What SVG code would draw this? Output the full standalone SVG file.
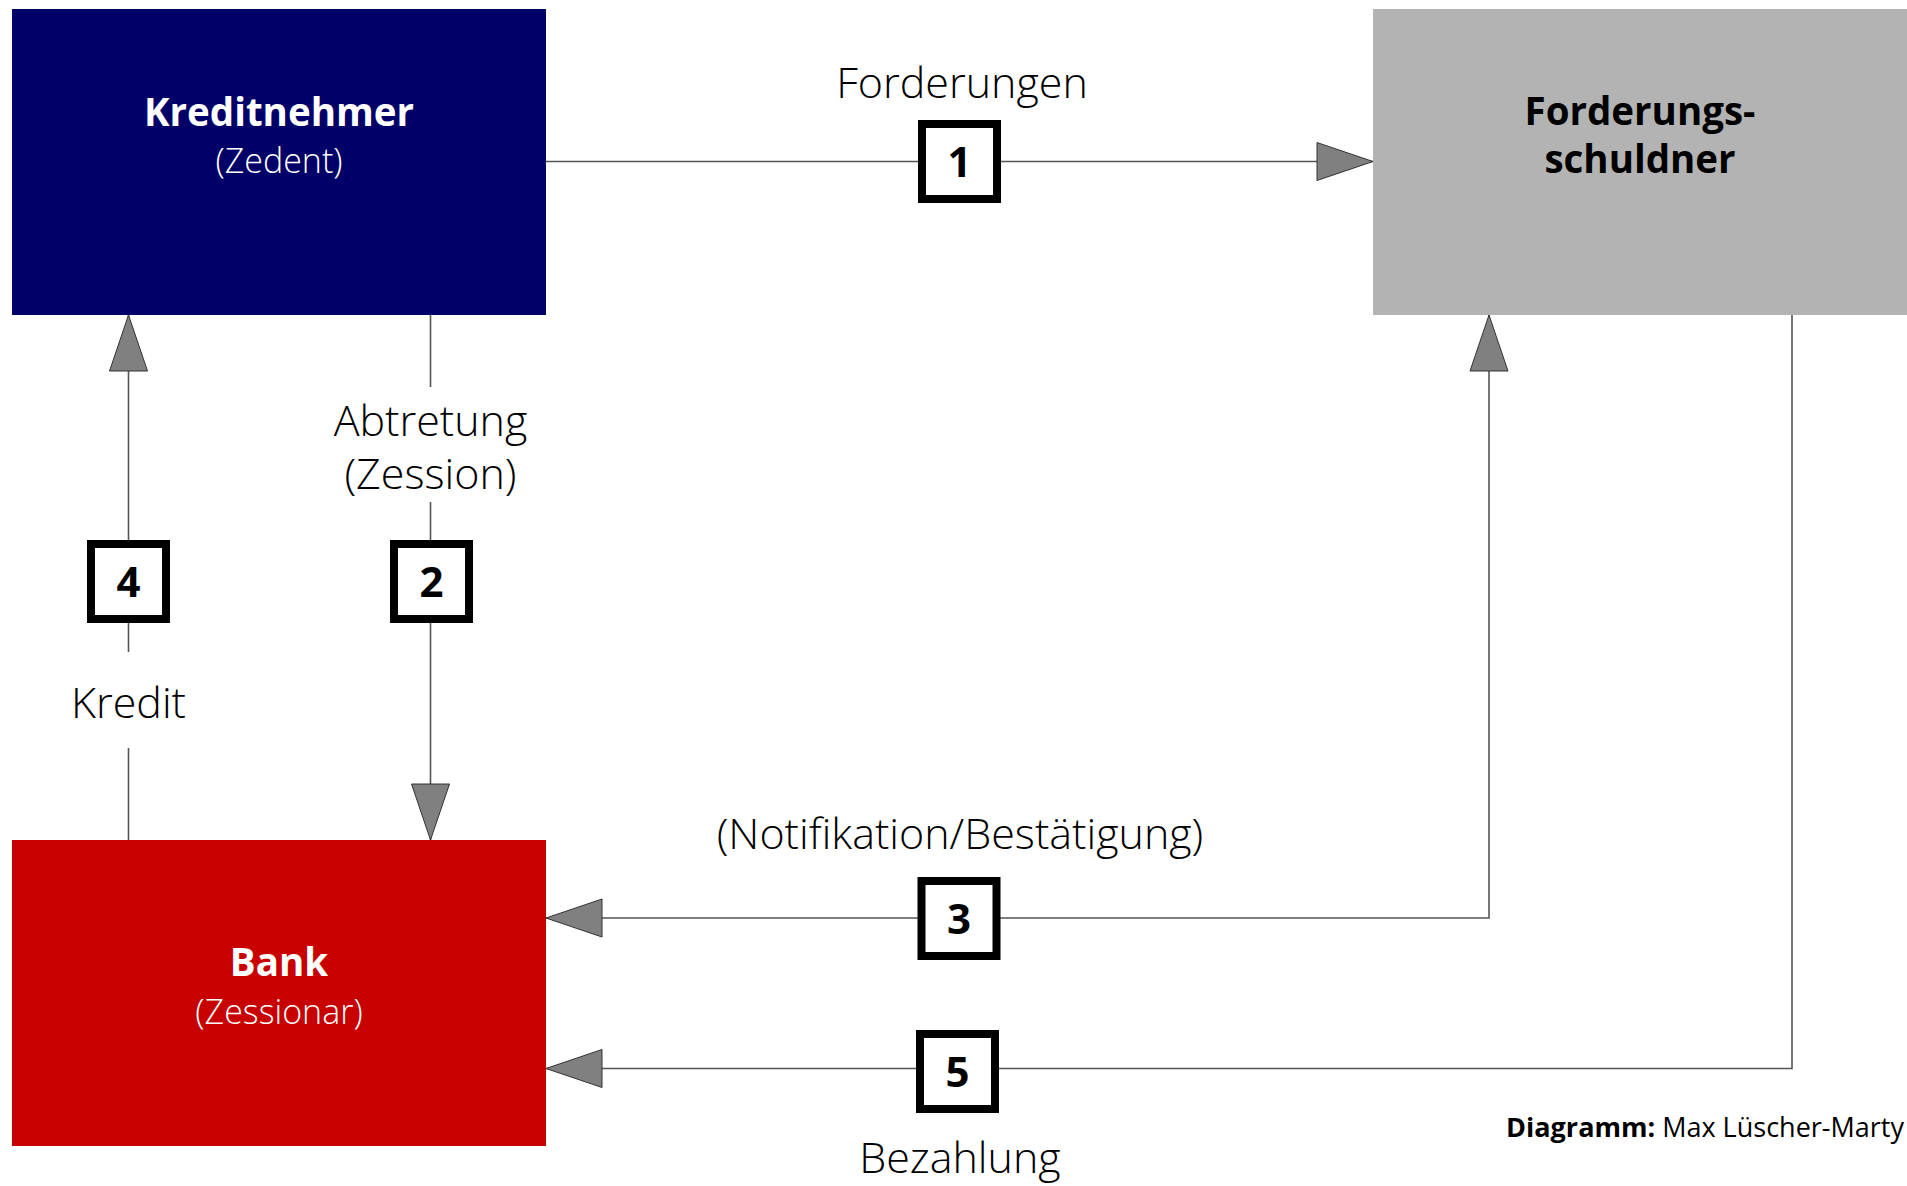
<svg xmlns="http://www.w3.org/2000/svg" width="1907" height="1186" viewBox="0 0 1907 1186">
  <style>
    .lbl { font-family: "Open Sans", "Liberation Sans", sans-serif; font-size: 43px; font-weight: 300; fill: #000; text-anchor: middle; }
    .title { font-family: "Open Sans", "Liberation Sans", sans-serif; font-size: 38.5px; font-weight: 700; text-anchor: middle; }
    .sub { font-family: "Open Sans", "Liberation Sans", sans-serif; font-size: 34px; font-weight: 300; text-anchor: middle; }
    .num { font-family: "Open Sans", "Liberation Sans", sans-serif; font-size: 42px; font-weight: 700; fill: #000; text-anchor: middle; }
    .badge { fill: #fff; stroke: #000; stroke-width: 8; }
    .wire { fill: none; stroke: #555; stroke-width: 1.6; }
    .credit { font-family: "Open Sans", "Liberation Sans", sans-serif; font-size: 27px; fill: #000; text-anchor: end; }
  </style>
  <defs>
    <marker id="tri" viewBox="0 0 56 38" refX="56" refY="19" markerWidth="56" markerHeight="38" markerUnits="userSpaceOnUse" orient="auto-start-reverse" overflow="visible">
      <path d="M0,0 L56,19 L0,38 Z" fill="#808080" stroke="#333" stroke-width="1"/>
    </marker>
  </defs>

  <rect width="1907" height="1186" fill="#fff"/>

  <!-- parties -->
  <g id="kreditnehmer">
    <rect x="12" y="9" width="534" height="306" fill="#000068"/>
    <text class="title" x="279" y="126" fill="#fff">Kreditnehmer</text>
    <text class="sub" x="279" y="173" fill="#fff">(Zedent)</text>
  </g>
  <g id="forderungsschuldner">
    <rect x="1373" y="9" width="534" height="306" fill="#b3b3b3"/>
    <text class="title" x="1640" y="125" fill="#000">Forderungs-</text>
    <text class="title" x="1640" y="173" fill="#000">schuldner</text>
  </g>
  <g id="bank">
    <rect x="12" y="840" width="534" height="306" fill="#c80000"/>
    <text class="title" x="279" y="976" fill="#fff">Bank</text>
    <text class="sub" x="279" y="1024" fill="#fff">(Zessionar)</text>
  </g>

  <!-- flows between the parties -->
  <g id="connectors">
    <path class="wire" d="M546,161.5 H1373" marker-end="url(#tri)"/>
    <path class="wire" d="M430.5,315 V387 M430.5,502 V840" marker-end="url(#tri)"/>
    <path class="wire" d="M546,918 H1489 V315" marker-start="url(#tri)" marker-end="url(#tri)"/>
    <path class="wire" d="M128.5,840 V748 M128.5,652 V315" marker-end="url(#tri)"/>
    <path class="wire" d="M1792,315 V1068.5 H546" marker-end="url(#tri)"/>
  </g>

  <!-- flow labels -->
  <g id="labels">
    <text class="lbl" x="962" y="98">Forderungen</text>
    <text class="lbl" x="430.5" y="436">Abtretung</text>
    <text class="lbl" x="430.5" y="489">(Zession)</text>
    <text class="lbl" x="128.5" y="718">Kredit</text>
    <text class="lbl" x="960" y="849">(Notifikation/Bestätigung)</text>
    <text class="lbl" x="960" y="1173">Bezahlung</text>
  </g>

  <!-- numbered steps -->
  <g id="step1">
    <rect class="badge" x="922" y="124" width="75" height="75"/>
    <text class="num" x="959.5" y="177">1</text>
  </g>
  <g id="step2">
    <rect class="badge" x="394" y="544" width="75" height="75"/>
    <text class="num" x="431.5" y="597">2</text>
  </g>
  <g id="step3">
    <rect class="badge" x="921.5" y="881" width="75" height="75"/>
    <text class="num" x="959" y="934">3</text>
  </g>
  <g id="step4">
    <rect class="badge" x="91" y="544" width="75" height="75"/>
    <text class="num" x="128.5" y="597">4</text>
  </g>
  <g id="step5">
    <rect class="badge" x="920" y="1034" width="75" height="75"/>
    <text class="num" x="957.5" y="1087">5</text>
  </g>

  <text class="credit" x="1904" y="1137"><tspan font-weight="700">Diagramm:</tspan> Max Lüscher-Marty</text>
</svg>
